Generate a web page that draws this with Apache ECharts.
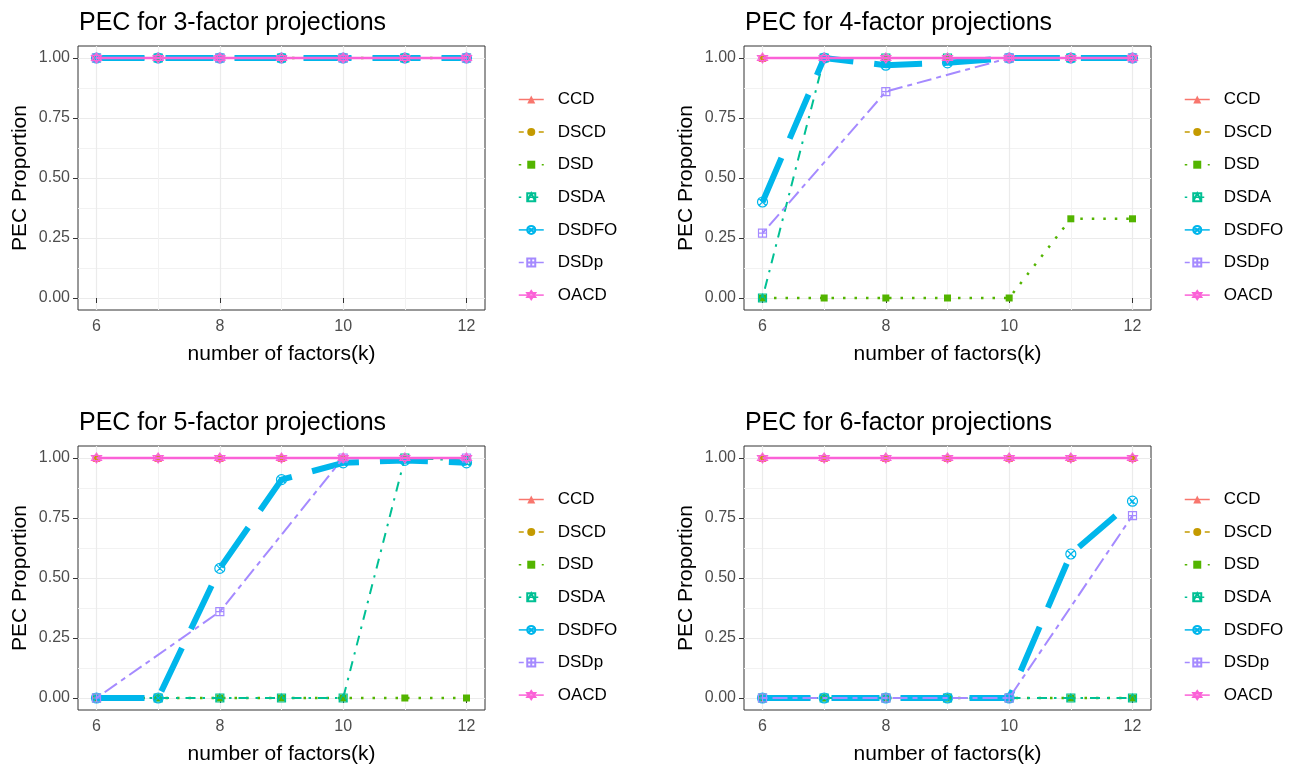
<!DOCTYPE html>
<html>
<head>
<meta charset="utf-8">
<script src="https://cdn.jsdelivr.net/npm/echarts@6/dist/echarts.min.js"></script>
<style>
html,body{margin:0;padding:0;background:#ffffff;}
#chart{width:1303px;height:771px;}
</style>
</head>
<body>
<div id="chart"></div>
<script>
// ---------------- DATA ----------------
const ks = [6, 7, 8, 9, 10, 11, 12];
const seriesNames = ['CCD', 'DSCD', 'DSD', 'DSDA', 'DSDFO', 'DSDp', 'OACD'];
const panelTitles = ['PEC for 3-factor projections', 'PEC for 4-factor projections',
                     'PEC for 5-factor projections', 'PEC for 6-factor projections'];
const xTickValues = [6, 8, 10, 12];
const xMinorValues = [7, 9, 11];
const yTickValues = [0, 0.25, 0.5, 0.75, 1];
const yMinorValues = [0.125, 0.375, 0.625, 0.875];
const xAxisTitle = 'number of factors(k)';
const yAxisTitle = 'PEC Proportion';

// rows follow seriesNames order; null = design not available at that k
const pec3 = [
  [1, 1, 1, 1, 1, 1, 1],            // CCD
  [1, 1, 1, 1, 1, 1, 1],            // DSCD
  [1, 1, 1, 1, 1, 1, 1],            // DSD
  [1, 1, 1, 1, 1, 1, 1],            // DSDA
  [1, 1, 1, 1, 1, 1, 1],            // DSDFO
  [1, null, 1, null, 1, null, 1],   // DSDp
  [1, 1, 1, 1, 1, 1, 1]             // OACD
];
const pec4 = [
  [1, 1, 1, 1, 1, 1, 1],
  [1, 1, 1, 1, 1, 1, 1],
  [0, 0, 0, 0, 0, 0.33, 0.33],
  [0, 1, 1, 1, 1, 1, 1],
  [0.40, 1, 0.97, 0.98, 1, 1, 1],
  [0.27, null, 0.86, null, 1, null, 1],
  [1, 1, 1, 1, 1, 1, 1]
];
const pec5 = [
  [1, 1, 1, 1, 1, 1, 1],
  [1, 1, 1, 1, 1, 1, 1],
  [0, 0, 0, 0, 0, 0, 0],
  [0, 0, 0, 0, 0, 1, 0.99],
  [0, 0, 0.54, 0.91, 0.98, 0.99, 0.98],
  [0, null, 0.36, null, 1, null, 1],
  [1, 1, 1, 1, 1, 1, 1]
];
const pec6 = [
  [1, 1, 1, 1, 1, 1, 1],
  [1, 1, 1, 1, 1, 1, 1],
  [0, 0, 0, 0, 0, 0, 0],
  [0, 0, 0, 0, 0, 0, 0],
  [0, 0, 0, 0, 0, 0.60, 0.82],
  [0, null, 0, null, 0, null, 0.76],
  [1, 1, 1, 1, 1, 1, 1]
];
const panels = [pec3, pec4, pec5, pec6];

// ---------------- STYLE ----------------
const FONT = '"Liberation Sans", Arial, sans-serif';
const symSquareTri = 'path://M0,0L10,0L10,10L0,10Z M0,10L5,0L10,10';
const symCircleX = 'path://M10,5A5,5 0 1,1 0,5A5,5 0 1,1 10,5Z M1.5,1.5L8.5,8.5 M8.5,1.5L1.5,8.5';
const symSquarePlus = 'path://M0,0L10,0L10,10L0,10Z M5,0L5,10 M0,5L10,5';
const symStar = 'path://M5,0L9.33,7.5L0.67,7.5Z M5,10L0.67,2.5L9.33,2.5Z';
const styles = {
  CCD:   {color: '#F8766D', type: 'solid',         width: 2,   symbol: 'triangle',    size: 8,  open: false},
  DSCD:  {color: '#C49A00', type: [5, 5],          width: 2,   symbol: 'circle',      size: 7,  open: false},
  DSD:   {color: '#53B400', type: [2.5, 9],        width: 2.5, symbol: 'rect',        size: 7,  open: false},
  DSDA:  {color: '#00C094', type: [2.5, 7, 10, 7], width: 2,   symbol: symSquareTri,  size: 8,  open: true},
  DSDFO: {color: '#00B6EB', type: [48, 21],        width: 6,   symbol: symCircleX,    size: 10, open: true},
  DSDp:  {color: '#A58AFF', type: [5, 5, 15, 5],   width: 2,   symbol: symSquarePlus, size: 8,  open: true},
  OACD:  {color: '#FB61D7', type: 'solid',         width: 2.5, symbol: symStar,       size: 10, open: true}
};
const gridPos = [
  {left: 78, top: 46}, {left: 744, top: 46},
  {left: 78, top: 446}, {left: 744, top: 446}
];
const GW = 407, GH = 264;

const grids = [], xAxes = [], yAxes = [], series = [], titles = [], legends = [];
gridPos.forEach(function (g, i) {
  grids.push({left: g.left, top: g.top, width: GW, height: GH, show: true,
    borderColor: '#333333', borderWidth: 1, backgroundColor: '#ffffff', containLabel: false});
  titles.push({text: panelTitles[i], left: g.left + 1, top: g.top - 35, padding: 0,
    textStyle: {fontFamily: FONT, fontSize: 25, fontWeight: 'normal', color: '#000'}});
  // main x axis
  xAxes.push({type: 'value', gridIndex: i, min: 5.7, max: 12.3, position: 'bottom',
    axisLine: {show: false},
    axisTick: {show: true, customValues: xTickValues, length: 5, lineStyle: {color: '#333333', width: 1}},
    axisLabel: {customValues: xTickValues, color: '#4D4D4D', fontSize: 16, fontFamily: FONT, margin: 9},
    splitLine: {show: true, customValues: xTickValues, lineStyle: {color: '#EBEBEB', width: 1.2}},
    name: xAxisTitle, nameLocation: 'middle', nameGap: 34,
    nameTextStyle: {fontFamily: FONT, fontSize: 21, color: '#000'}});
  // minor x grid
  xAxes.push({type: 'value', gridIndex: i, min: 5.7, max: 12.3, position: 'top',
    axisLine: {show: false},
    axisTick: {show: false, customValues: xMinorValues},
    axisLabel: {show: false, customValues: xMinorValues},
    splitLine: {show: true, customValues: xMinorValues, lineStyle: {color: '#F2F2F2', width: 1}}});
  yAxes.push({type: 'value', gridIndex: i, min: -0.05, max: 1.05, position: 'left',
    axisLine: {show: false},
    axisTick: {show: true, customValues: yTickValues, length: 5, lineStyle: {color: '#333333', width: 1}},
    axisLabel: {customValues: yTickValues, color: '#4D4D4D', fontSize: 16, fontFamily: FONT, margin: 8,
      formatter: function (v) { return v.toFixed(2); }},
    splitLine: {show: true, customValues: yTickValues, lineStyle: {color: '#EBEBEB', width: 1.2}},
    name: yAxisTitle, nameLocation: 'middle', nameGap: 47,
    nameTextStyle: {fontFamily: FONT, fontSize: 21, color: '#000'}});
  yAxes.push({type: 'value', gridIndex: i, min: -0.05, max: 1.05, position: 'right',
    axisLine: {show: false},
    axisTick: {show: false, customValues: yMinorValues},
    axisLabel: {show: false, customValues: yMinorValues},
    splitLine: {show: true, customValues: yMinorValues, lineStyle: {color: '#F2F2F2', width: 1}}});

  const rows = panels[i];
  seriesNames.forEach(function (name, s) {
    const st = styles[name];
    const pts = [];
    ks.forEach(function (k, j) { if (rows[s][j] !== null) pts.push([k, rows[s][j]]); });
    series.push({
      name: name, type: 'line', xAxisIndex: 2 * i, yAxisIndex: 2 * i,
      data: pts, symbol: st.symbol, symbolSize: st.size, showSymbol: true,
      lineStyle: {color: st.color, width: st.width, type: st.type, cap: 'butt'},
      itemStyle: st.open ? {color: 'rgba(255,255,255,0)', borderColor: st.color, borderWidth: 1.2}
                         : {color: st.color, borderWidth: 0},
      emphasis: {disabled: true}, animation: false, clip: false, z: 2 + s * 0.01
    });
  });

  legends.push({
    data: seriesNames, orient: 'vertical',
    left: g.left + 435, top: g.top + 40,
    itemWidth: 25, itemHeight: 10, itemGap: 15.6,
    textStyle: {fontFamily: FONT, fontSize: 17, color: '#000', padding: [0, 0, 0, 9]},
    lineStyle: {width: 1.5},
    selectedMode: false
  });
});

const chart = echarts.init(document.getElementById('chart'), null, {renderer: 'canvas'});
chart.setOption({
  backgroundColor: '#ffffff',
  animation: false,
  title: titles,
  grid: grids,
  xAxis: xAxes,
  yAxis: yAxes,
  legend: legends,
  series: series
});
</script>
</body>
</html>
